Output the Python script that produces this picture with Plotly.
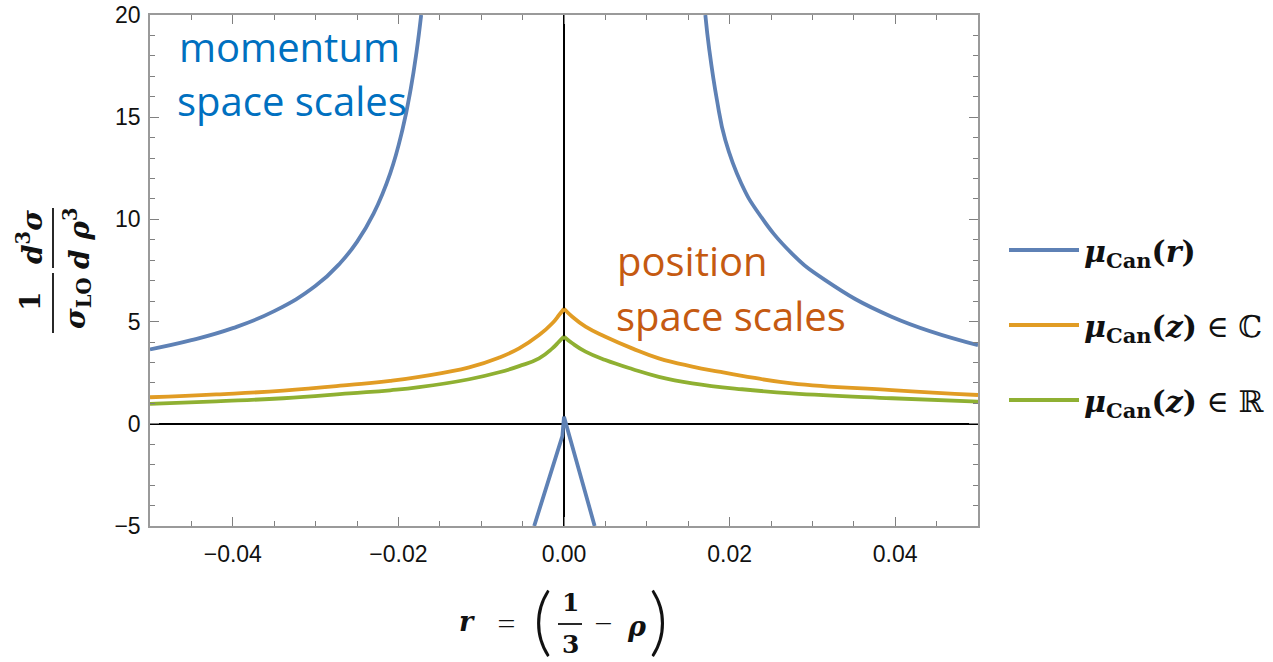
import plotly.graph_objects as go

# ---- data: mu_Can(r) (momentum-space scale choice), two branches plus central spike
blue_left_x = [-0.05, -0.045, -0.04, -0.035, -0.03, -0.027, -0.025, -0.023, -0.021,
               -0.0195, -0.0185, -0.0178, -0.01725]
blue_left_y = [3.64, 4.09, 4.68, 5.51, 6.75, 7.88, 8.90, 10.28, 12.24,
               14.41, 16.41, 18.23, 20.0]
blue_right_x = [0.01707, 0.01755, 0.01847, 0.01948, 0.0214, 0.0235, 0.0275, 0.0315, 0.03956, 0.05]
blue_right_y = [20.0, 18.29, 15.84, 13.88, 11.77, 10.30, 8.34, 7.04, 5.24, 3.85]
blue_spike_x = [-0.0036, -0.0002, 0.0, 0.0037]
blue_spike_y = [-5.0, -0.6, 0.35, -5.0]

# ---- data: mu_Can(z) complex (position-space scale choice)
orange_left_x = [-0.05, -0.042, -0.0339, -0.0259, -0.021, -0.0175, -0.01145, -0.00783,
                 -0.00542, -0.00301, -0.00141, -0.0006, 0.0]
orange_left_y = [1.30, 1.44, 1.62, 1.90, 2.10, 2.30, 2.76, 3.24,
                 3.69, 4.34, 4.92, 5.32, 5.63]
orange_right_x = [0.0, 0.001, 0.0026, 0.005, 0.00823, 0.01145, 0.0155, 0.0187,
                  0.0215, 0.0275, 0.0396, 0.05]
orange_right_y = [5.63, 5.24, 4.75, 4.26, 3.69, 3.20, 2.80, 2.55,
                  2.35, 1.98, 1.65, 1.41]

# ---- data: mu_Can(z) real
green_left_x = [-0.05, -0.042, -0.0339, -0.0259, -0.021, -0.0175, -0.01145, -0.00783,
                -0.00542, -0.00301, -0.00141, -0.0006, 0.0]
green_left_y = [0.97, 1.10, 1.25, 1.49, 1.64, 1.79, 2.18, 2.52,
                2.82, 3.20, 3.69, 4.02, 4.26]
green_right_x = [0.0, 0.001, 0.0026, 0.005, 0.00823, 0.01145, 0.0155, 0.0215,
                 0.0275, 0.0396, 0.05]
green_right_y = [4.26, 3.94, 3.53, 3.12, 2.68, 2.30, 1.98, 1.69,
                 1.49, 1.25, 1.08]

series_names = [
    "<b><i>μ</i><sub>Can</sub>(<i>r</i>)</b>",
    "<b><i>μ</i><sub>Can</sub>(<i>z</i>)</b> ∈ ℂ",
    "<b><i>μ</i><sub>Can</sub>(<i>z</i>)</b> ∈ ℝ",
]
BLUE, ORANGE, GREEN = "#5E81B5", "#E19C24", "#8FB032"

# ---- page geometry (pixels)
W, H = 1273, 662
L, R, T, B = 150, 295, 15, 136
PW, PH = W - L - R, H - T - B


def px(xp):
    return (xp - L) / PW


def py(yp):
    return (H - B - yp) / PH


fig = go.Figure()

LW = 3.8
SMOOTH = 1.3
fig.add_trace(go.Scatter(
    x=blue_left_x + [None] + blue_right_x,
    y=blue_left_y + [None] + blue_right_y,
    mode="lines", line=dict(color=BLUE, width=LW, shape="spline", smoothing=SMOOTH),
    name=series_names[0], legendgroup="a"))
fig.add_trace(go.Scatter(
    x=blue_spike_x, y=blue_spike_y, mode="lines",
    line=dict(color=BLUE, width=LW), showlegend=False, legendgroup="a"))
fig.add_trace(go.Scatter(
    x=orange_left_x + [None] + orange_right_x,
    y=orange_left_y + [None] + orange_right_y,
    mode="lines", line=dict(color=ORANGE, width=LW, shape="spline", smoothing=SMOOTH),
    name=series_names[1], legendgroup="b"))
fig.add_trace(go.Scatter(
    x=green_left_x + [None] + green_right_x,
    y=green_left_y + [None] + green_right_y,
    mode="lines", line=dict(color=GREEN, width=LW, shape="spline", smoothing=SMOOTH),
    name=series_names[2], legendgroup="c"))

axis_common = dict(
    showline=True, linecolor="#9a9a9a", linewidth=1.5, mirror="ticks",
    ticks="inside", ticklen=9, tickwidth=1.2, tickcolor="#808080",
    showgrid=False, zeroline=True, zerolinecolor="#000000", zerolinewidth=1.5,
    automargin=False,
    tickfont=dict(family="Liberation Sans", size=23, color="#111111"),
)

fig.update_xaxes(
    range=[-0.05, 0.05], dtick=0.02, tick0=0, tickformat=".2f",
    minor=dict(dtick=0.005, ticks="inside", ticklen=5, tickcolor="#808080", tickwidth=1.2),
    ticklabelstandoff=7, **axis_common)
fig.update_yaxes(
    range=[-5, 20], dtick=5, tick0=0,
    minor=dict(dtick=1, ticks="inside", ticklen=5, tickcolor="#808080", tickwidth=1.2),
    ticklabelstandoff=3, **axis_common)

ann = []
shapes = []

# region labels
for text, xp, yp, col in [
    ("momentum", 177, 46, "#0070C0"),
    ("space scales", 175, 100, "#0070C0"),
    ("position", 615, 260, "#C55A11"),
    ("space scales", 614, 315, "#C55A11"),
]:
    ann.append(dict(text=text, x=px(xp), y=py(yp), xref="paper", yref="paper",
                    xanchor="left", yanchor="middle", showarrow=False,
                    font=dict(family="Open Sans", size=40, color=col)))

serif = "DejaVu Serif"

# y-axis title: (1 / sigma_LO) (d^3 sigma / d rho^3), rotated
for text, xp, yp in [
    ("<b>1</b>", 30, 302),
    ("<b><i>d</i><sup>3</sup><i>σ</i></b>", 30, 237),
    ("<b><i>σ</i><sub>LO</sub></b>", 77, 303),
    ("<b><i>d</i> <i>ρ</i><sup>3</sup></b>", 77, 238),
]:
    ann.append(dict(text=text, x=px(xp), y=py(yp), xref="paper", yref="paper",
                    xanchor="center", yanchor="middle", showarrow=False, textangle=-90,
                    font=dict(family=serif, size=28, color="#111111")))
for y0, y1 in [(273, 333), (208, 268)]:
    shapes.append(dict(type="line", xref="paper", yref="paper",
                       x0=px(53), x1=px(53), y0=py(y0), y1=py(y1),
                       line=dict(color="#111111", width=1.8)))

# x-axis title: r = (1/3 - rho)
for text, xp, yp, size, fam, wt in [
    ("<b><i>r</i></b>", 467, 621, 27, serif, "normal"),
    ("=", 506, 622, 36, "Lato", 300),
    ("(", 542, 618, 74, "Lato", 300),
    ("<b>1</b>", 570, 602, 25, serif, "normal"),
    ("<b>3</b>", 570, 644, 25, serif, "normal"),
    ("−", 603, 622, 36, "Lato", 300),
    ("<b><i>ρ</i></b>", 637, 626, 27, serif, "normal"),
    (")", 658, 618, 74, "Lato", 300),
]:
    ann.append(dict(text=text, x=px(xp), y=py(yp), xref="paper", yref="paper",
                    xanchor="center", yanchor="middle", showarrow=False,
                    font=dict(family=fam, size=size, color="#111111", weight=wt)))
shapes.append(dict(type="line", xref="paper", yref="paper",
                   x0=px(558), x1=px(582), y0=py(624), y1=py(624),
                   line=dict(color="#111111", width=1.8)))

fig.update_layout(
    width=W, height=H,
    margin=dict(l=L, r=R, t=T, b=B, autoexpand=False),
    paper_bgcolor="white", plot_bgcolor="white",
    annotations=ann, shapes=shapes,
    legend=dict(x=px(1004), y=py(224), xanchor="left", yanchor="top",
                font=dict(family=serif, size=30, color="#111111"),
                tracegroupgap=33, itemwidth=70, bgcolor="rgba(0,0,0,0)"),
    showlegend=True,
)

fig.write_html("out.html")
